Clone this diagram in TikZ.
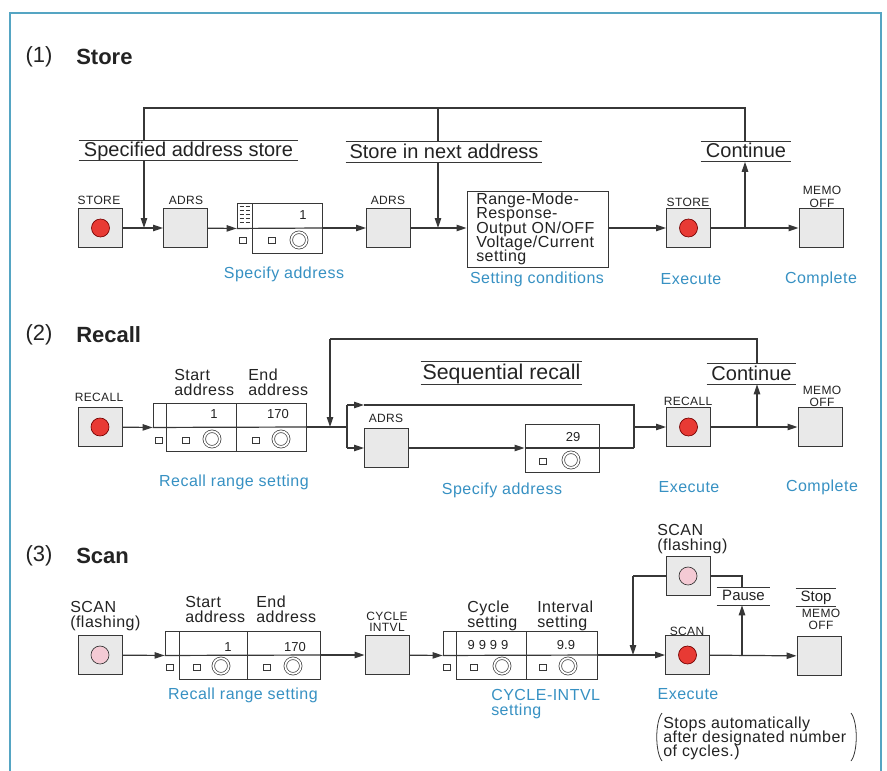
\documentclass[tikz,border=0pt]{standalone}
\usepackage{fontspec}
\setmainfont{Liberation Sans}
\usetikzlibrary{arrows.meta,fit}
\definecolor{linec}{RGB}{55,55,55}
\definecolor{txtc}{RGB}{35,35,35}
\definecolor{bluec}{RGB}{55,145,195}
\definecolor{framec}{RGB}{85,165,195}
\definecolor{keyfill}{RGB}{233,233,233}
\definecolor{redl}{RGB}{232,58,52}
\definecolor{pinkl}{RGB}{244,202,212}
\newcommand\tightlines{\lineskiplimit=-50pt\relax}
\tikzset{
 ln/.style={draw=linec, line width=0.9pt},
 arr/.style={ln, -{Triangle[length=7.5pt,width=4.8pt]}},
 tl/.style={draw=linec, line width=0.7pt},
 keybox/.style={tl, fill=keyfill, inner sep=0, minimum width=33pt, minimum height=29.25pt},
 lampr/.style={circle, draw=red!45!black, fill=redl, line width=0.5pt, minimum size=13.5pt, inner sep=0},
 lampp/.style={circle, draw=linec, fill=pinkl, line width=0.5pt, minimum size=13.5pt, inner sep=0},
 pbox/.style={tl, inner sep=0, fit={#1}},
 ollab/.style={inner sep=0, text=txtc, font=\fontsize{15}{17}\selectfont, text height=11pt, text depth=2pt, minimum height=15pt},
 olsm/.style={inner sep=0, text=txtc, font=\fontsize{11.25}{13}\selectfont, text height=8.2pt, text depth=1.5pt, minimum height=12.75pt},
 olline/.style={draw=linec, line width=0.8pt},
 sqr/.style={tl, line width=0.6pt, minimum width=5.25pt, minimum height=4.5pt, inner sep=0},
 knob/.style={circle, draw=linec, line width=0.5pt, double=white, double distance=1.4pt, minimum size=11.6pt, inner sep=0},
 klab/.style={text=txtc, inner sep=0, font=\fontsize{9}{9}\selectfont\addfontfeature{LetterSpace=3}},
 mlab/.style={text=txtc, inner sep=0, align=left, anchor=north west, font=\fontsize{12}{11.25}\selectfont\tightlines\addfontfeature{LetterSpace=3}},
 blab/.style={text=bluec, inner sep=0, font=\fontsize{12}{14}\selectfont\addfontfeature{LetterSpace=3}},
 dig/.style={text=txtc, inner sep=0, font=\fontsize{9.75}{10}\selectfont},
 ttl/.style={text=txtc, inner sep=0, font=\fontsize{16.5}{19}\selectfont},
}
\begin{document}
\begin{tikzpicture}[x=0.75pt,y=-0.75pt]
\useasboundingbox (0,0) rectangle (887,770);
\fill[white] (0,0) rectangle (887,770);
% frame
\draw[framec, line width=1.1pt] (10,772) -- (10,13) -- (881,13) -- (881,772);

%%%%%%%%%%%%%%%% (1) Store
\node[ttl] (n1) at (39,57) {(1)};
\node[ttl, font=\fontsize{16.5}{19}\selectfont\bfseries, anchor=west] (t1) at (76,57) {Store};

\node[ollab, minimum width=164.25pt] (L1) at (188.5,150.5) {Specified address store};
\node[ollab, minimum width=147pt] (L2) at (444,152) {Store in next address};
\node[ollab, minimum width=67.5pt] (L3) at (746,151.5) {Continue};
\foreach \n in {L1,L2,L3} {\draw[olline] (\n.north west) -- (\n.north east) (\n.south west) -- (\n.south east);}

\node[keybox] (store1) at (100.5,228) {};
\node[lampr] (store1l) at (store1) {};
\node[klab] (store1t) at (99,200) {STORE};
\node[keybox] (adrs1) at (185.5,228) {};
\node[klab] (adrs1t) at (186,200) {ADRS};

\node[pbox={(237,203) (252,228)}] (p1s) {};
\node[pbox={(252,203) (322,253)}] (p1m) {};
\foreach \r in {206.5,210.5,214.5,218.5,222.5} {\draw[linec, line width=0.6pt] (239.5,\r) -- (243.5,\r) (245.5,\r) -- (249.5,\r);}
\node[dig] (p1d) at (303,215) {1};
\node[sqr] (p1q1) at (243,240) {};
\node[sqr] (p1q2) at (272,240) {};
\node[knob] (p1k) at (299,240) {};
\node[blab] (b1) at (284,274) {Specify address};

\node[keybox] (adrs2) at (388.5,228) {};
\node[klab] (adrs2t) at (388,200) {ADRS};

\node[pbox={(467,191) (608,267)}] (set) {};
\node[mlab, font=\fontsize{12}{10.6}\selectfont\tightlines\addfontfeature{LetterSpace=3}] (sett) at (476,193) {Range-Mode-\\Response-\\Output ON/OFF\\Voltage/Current\\setting};
\node[blab] (b2) at (537,279) {Setting conditions};

\node[keybox] (store2) at (688.5,228) {};
\node[lampr] (store2l) at (store2) {};
\node[klab] (store2t) at (688,202) {STORE};
\node[blab] (b3) at (691,279) {Execute};

\node[keybox] (memo1) at (821,228) {};
\node[klab] (memo1a) at (822,190) {MEMO};
\node[klab] (memo1b) at (822,203) {OFF};
\node[blab] (b4) at (821,279) {Complete};

\coordinate (lp1a) at (144,108);
\coordinate (lp1b) at (438,108);
\coordinate (lp1c) at (745,108);
\coordinate (j1) at (745,228);

\draw[arr] (store1) -- (adrs1);
\draw[arr] (adrs1) -- (p1s.south west);
\draw[ln] (p1s.south west) -- (p1m.east);
\draw[arr] (p1m.east) -- (adrs2);
\draw[arr] (adrs2.east) -- (adrs2.east -| set.west);
\draw[arr] (set.east |- store2) -- (store2);
\draw[arr] (store2) -- (memo1);
\draw[arr] (j1) -- (j1 |- L3.south);
\draw[ln] (lp1a |- L1.north) -- (lp1a) -- (lp1c) -- (lp1c |- L3.north);
\draw[ln] (lp1b) -- (lp1b |- L2.north);
\draw[arr] (lp1a |- L1.south) -- (lp1a |- store1);
\draw[arr] (lp1b |- L2.south) -- (lp1b |- adrs2);

%%%%%%%%%%%%%%%% (2) Recall
\node[ttl] (n2) at (39,335) {(2)};
\node[ttl, font=\fontsize{16.5}{19}\selectfont\bfseries, anchor=west] (t2) at (76,335) {Recall};

\node[ollab, font=\fontsize{16}{18}\selectfont, minimum width=120.75pt, minimum height=16.5pt] (L4) at (501.5,373) {Sequential recall};
\node[ollab, minimum width=66.75pt] (L5) at (751.5,374) {Continue};
\foreach \n in {L4,L5} {\draw[olline] (\n.north west) -- (\n.north east) (\n.south west) -- (\n.south east);}

\node[keybox] (recall1) at (100,427) {};
\node[lampr] (recall1l) at (recall1) {};
\node[klab] (recall1t) at (99,397) {RECALL};

\node[pbox={(153,403) (166,427)}] (p2s) {};
\node[pbox={(166,403) (306,451)}] (p2m) {};
\draw[tl] (236,403) -- (236,451);
\node[mlab] (p2la) at (174,369) {Start\\address};
\node[mlab] (p2lb) at (248,369) {End\\address};
\node[dig] (p2d1) at (214,414) {1};
\node[dig] (p2d2) at (278,414) {170};
\node[sqr] (p2q0) at (159,440) {};
\node[sqr] (p2q1) at (186,440) {};
\node[sqr] (p2q2) at (256,440) {};
\node[knob] (p2k1) at (212,439) {};
\node[knob] (p2k2) at (281,439) {};
\node[blab] (b5) at (234,482) {Recall range setting};

\coordinate (sp) at (347,427);
\coordinate (spT) at (347,405);
\coordinate (spB) at (347,448);
\coordinate (spTa) at (364,405);
\coordinate (mg) at (634,427);
\coordinate (mgT) at (634,405);
\coordinate (mgB) at (634,448);

\node[keybox] (adrs3) at (386.5,448) {};
\node[klab] (adrs3t) at (386,418) {ADRS};

\node[pbox={(525,424) (599,472)}] (p3) {};
\node[dig] (p3d) at (573,437) {29};
\node[sqr] (p3q) at (543,461) {};
\node[knob] (p3k) at (571,460) {};
\node[blab] (b6) at (502,490) {Specify address};

\node[keybox] (recall2) at (688.5,427) {};
\node[lampr] (recall2l) at (recall2) {};
\node[klab] (recall2t) at (688,401) {RECALL};
\node[blab] (b7) at (689,487) {Execute};

\node[keybox] (memo2) at (820,427) {};
\node[klab] (memo2a) at (822,390) {MEMO};
\node[klab] (memo2b) at (822,402) {OFF};
\node[blab] (b8) at (822,487) {Complete};

\coordinate (lp2a) at (330,339);
\coordinate (lp2b) at (757,339);
\coordinate (j2) at (757,427);

\draw[arr] (recall1) -- (p2s.south west);
\draw[ln] (p2s.south west) -- (p2m.east);
\draw[ln] (p2m.east) -- (sp);
\draw[ln] (spT) -- (spB);
\draw[arr] (spT) -- (spTa);
\draw[ln] (spTa) -- (mgT) -- (mgB);
\draw[arr] (spB) -- (adrs3);
\draw[arr] (adrs3) -- (p3.west);
\draw[ln] (p3.west) -- (p3.east) -- (mgB);
\draw[arr] (mg) -- (recall2);
\draw[arr] (recall2) -- (memo2);
\draw[arr] (j2) -- (j2 |- L5.south);
\draw[arr] (lp2a) -- (lp2a |- sp);
\draw[ln] (lp2a) -- (lp2b) -- (lp2b |- L5.north);

%%%%%%%%%%%%%%%% (3) Scan
\node[ttl] (n3) at (39,556) {(3)};
\node[ttl, font=\fontsize{16.5}{19}\selectfont\bfseries, anchor=west] (t3) at (76,556) {Scan};

\node[mlab] (scan1t) at (70,601) {SCAN\\(flashing)};
\node[keybox] (scan1) at (100,655) {};
\node[lampp] (scan1l) at (scan1) {};

\node[pbox={(165,631) (179,655)}] (p4s) {};
\node[pbox={(179,631) (320,679)}] (p4m) {};
\draw[tl] (247,631) -- (247,679);
\node[mlab] (p4la) at (185,596) {Start\\address};
\node[mlab] (p4lb) at (256,596) {End\\address};
\node[dig] (p4d1) at (228,647) {1};
\node[dig] (p4d2) at (295,647) {170};
\node[sqr] (p4q0) at (170,667) {};
\node[sqr] (p4q1) at (197,667) {};
\node[sqr] (p4q2) at (267,667) {};
\node[knob] (p4k1) at (221,666) {};
\node[knob] (p4k2) at (293,666) {};
\node[blab] (b9) at (243,695) {Recall range setting};

\node[keybox] (cycle) at (387,655) {};
\node[klab] (cyclea) at (387,616) {CYCLE};
\node[klab] (cycleb) at (387,627) {INTVL};

\node[pbox={(443,631) (456,655)}] (p5s) {};
\node[pbox={(456,631) (597,679)}] (p5m) {};
\draw[tl] (526,631) -- (526,679);
\node[mlab] (p5la) at (467,601) {Cycle\\setting};
\node[mlab] (p5lb) at (537,601) {Interval\\setting};
\node[dig, font=\fontsize{9.75}{10}\selectfont\addfontfeature{LetterSpace=30}] (p5d1) at (488,645) {9999};
\node[dig] (p5d2) at (566,645) {9.9};
\node[sqr] (p5q0) at (447,667) {};
\node[sqr] (p5q1) at (474,667) {};
\node[sqr] (p5q2) at (543,667) {};
\node[knob] (p5k1) at (502,666) {};
\node[knob] (p5k2) at (568,666) {};
\node[mlab, text=bluec] (b10) at (491,689) {CYCLE-INTVL\\setting};

\node[keybox] (scanF) at (688,576) {};
\node[lampp] (scanFl) at (scanF) {};
\node[mlab] (scanFt) at (657,524) {SCAN\\(flashing)};

\node[keybox] (scanE) at (687.5,655) {};
\node[lampr] (scanEl) at (scanE) {};
\node[klab] (scanEt) at (687,631) {SCAN};
\node[blab] (b11) at (688,694) {Execute};

\node[keybox] (stop) at (819,656) {};
\node[klab] (stopa) at (821,613) {MEMO};
\node[klab] (stopb) at (821,625) {OFF};

\node[olsm, minimum width=39.75pt] (L6) at (743.5,596.5) {Pause};
\node[olsm, minimum width=30pt] (L7) at (816,597.5) {Stop};
\foreach \n in {L6,L7} {\draw[olline] (\n.north west) -- (\n.north east) (\n.south west) -- (\n.south east);}

\node[mlab, font=\fontsize{12}{10.5}\selectfont\tightlines\addfontfeature{LetterSpace=3}] (note) at (663,717) {Stops automatically\\after designated number\\of cycles.)};
\draw[linec, line width=0.6pt] (662,713) .. controls (655,722) and (655,752) .. (662,761);
\draw[linec, line width=0.6pt] (851,713) .. controls (858,722) and (858,752) .. (851,761);

\coordinate (lp3) at (633,576);
\coordinate (lp3b) at (633,655);
\coordinate (pp) at (742,576);
\coordinate (j3) at (742,655);

\draw[arr] (scan1) -- (p4s.south west);
\draw[ln] (p4s.south west) -- (p4m.east);
\draw[arr] (p4m.east) -- (cycle);
\draw[arr] (cycle) -- (p5s.south west);
\draw[ln] (p5s.south west) -- (p5m.east);
\draw[arr] (p5m.east) -- (scanE);
\draw[arr] (scanE) -- (stop);
\draw[ln] (scanF) -- (lp3);
\draw[arr] (lp3) -- (lp3b);
\draw[ln] (scanF) -- (pp) -- (pp |- L6.north);
\draw[arr] (j3) -- (j3 |- L6.south);
\end{tikzpicture}
\end{document}
